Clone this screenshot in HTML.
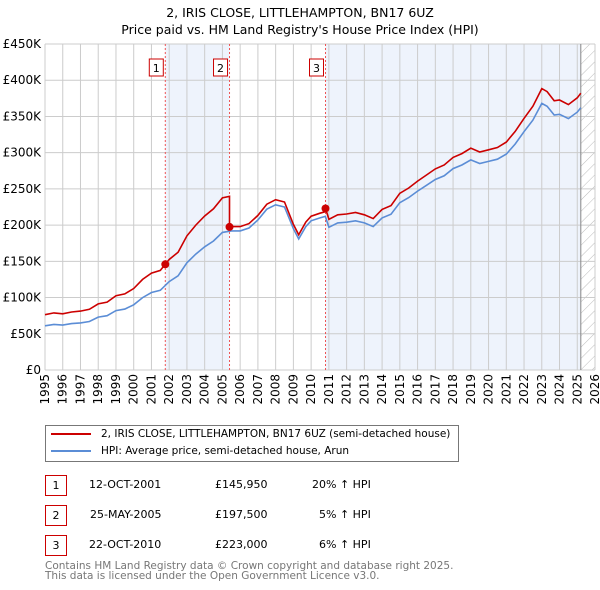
<!DOCTYPE html>
<html><head><meta charset="utf-8">
<style>
body{margin:0;background:#fff;font-family:"DejaVu Sans","Liberation Sans",sans-serif;}
#wrap{position:relative;width:600px;height:590px;overflow:hidden;}
.t{position:absolute;font-size:11px;color:#000;white-space:nowrap;}
.box{position:absolute;border:1px solid #c00;width:20px;height:19px;text-align:center;font-size:11px;line-height:19px;}
</style></head><body>
<div id="wrap">
<svg id="chart" width="600" height="420" style="position:absolute;left:0;top:0"></svg>
<div style="position:absolute;left:45px;top:425px;width:412px;height:35px;border:1px solid #777;">
  <div style="position:absolute;left:5px;top:2px;font-size:10.5px;white-space:nowrap;"><span style="display:inline-block;width:40px;height:2px;background:#c00;vertical-align:middle;margin-right:10px"></span>2, IRIS CLOSE, LITTLEHAMPTON, BN17 6UZ (semi-detached house)</div>
  <div style="position:absolute;left:5px;top:19px;font-size:10.5px;white-space:nowrap;"><span style="display:inline-block;width:40px;height:2px;background:#5b8dd6;vertical-align:middle;margin-right:10px"></span>HPI: Average price, semi-detached house, Arun</div>
</div>
<div class="box" style="left:45px;top:475px">1</div>
<div class="t" style="left:89px;top:478px">12-OCT-2001</div>
<div class="t" style="left:215px;top:478px">£145,950</div>
<div class="t" style="left:312px;top:478px">20% ↑ HPI</div>
<div class="box" style="left:45px;top:505px">2</div>
<div class="t" style="left:90px;top:508px">25-MAY-2005</div>
<div class="t" style="left:215px;top:508px">£197,500</div>
<div class="t" style="left:319px;top:508px">5% ↑ HPI</div>
<div class="box" style="left:45px;top:535px">3</div>
<div class="t" style="left:89px;top:538px">22-OCT-2010</div>
<div class="t" style="left:215px;top:538px">£223,000</div>
<div class="t" style="left:319px;top:538px">6% ↑ HPI</div>
<div class="t" style="left:45px;top:561px;color:#777;font-size:10.5px;line-height:10px">Contains HM Land Registry data © Crown copyright and database right 2025.<br>This data is licensed under the Open Government Licence v3.0.</div>
</div>
<script>
const hpiYears=[1995,1995.5,1996,1996.5,1997,1997.5,1998,1998.5,1999,1999.5,2000,2000.5,2001,2001.5,2002,2002.5,2003,2003.5,2004,2004.5,2005,2005.5,2006,2006.5,2007,2007.5,2008,2008.5,2009,2009.3,2009.7,2010,2010.5,2010.8,2011,2011.5,2012,2012.5,2013,2013.5,2014,2014.5,2015,2015.5,2016,2016.5,2017,2017.5,2018,2018.5,2019,2019.5,2020,2020.5,2021,2021.5,2022,2022.5,2023,2023.3,2023.7,2024,2024.5,2025,2025.2];
const hpiValues=[61,63,62,64,65,67,73,75,82,84,90,100,107,110,122,130,148,160,170,178,190,192,192,196,207,222,228,225,195,181,198,206,210,212,197,203,204,206,203,198,210,215,231,238,247,255,263,268,278,283,290,285,288,291,298,312,329,345,368,364,352,353,347,356,362];
const saleYears=[2001.78,2005.4,2010.81];
const salePrices=[145.95,197.5,223];
const yTicks=[0,50,100,150,200,250,300,350,400,450];
const yTickLabels=["£0","£50K","£100K","£150K","£200K","£250K","£300K","£350K","£400K","£450K"];
const xTicks=[1995,1996,1997,1998,1999,2000,2001,2002,2003,2004,2005,2006,2007,2008,2009,2010,2011,2012,2013,2014,2015,2016,2017,2018,2019,2020,2021,2022,2023,2024,2025,2026];

const L=45,R=595,T=44,B=370;
const xs=y=>L+(y-1995)/(2026-1995)*(R-L);
const ys=v=>B-v/450*(B-T);
const NS="http://www.w3.org/2000/svg";
const svg=document.getElementById('chart');
function mk(tag,attrs,parent){const e=document.createElementNS(NS,tag);for(const k in attrs)e.setAttribute(k,attrs[k]);(parent||svg).appendChild(e);return e;}
function hpiAt(y){for(let i=0;i<hpiYears.length-1;i++){if(y<=hpiYears[i+1]){const f=(y-hpiYears[i])/(hpiYears[i+1]-hpiYears[i]);return hpiValues[i]+f*(hpiValues[i+1]-hpiValues[i]);}}return hpiValues[hpiValues.length-1];}
const lastYear=hpiYears[hpiYears.length-1];

let t=mk('text',{x:300,y:17,'text-anchor':'middle','font-size':12.5,'font-family':'DejaVu Sans, sans-serif'});t.textContent="2, IRIS CLOSE, LITTLEHAMPTON, BN17 6UZ";

t=mk('text',{x:300,y:34,'text-anchor':'middle','font-size':12.5,'font-family':'DejaVu Sans, sans-serif'});t.textContent="Price paid vs. HM Land Registry's House Price Index (HPI)";


let r=mk('rect',{x:xs(saleYears[0]),y:T,width:xs(saleYears[1])-xs(saleYears[0]),height:B-T,fill:'#eef3fc'});

r=mk('rect',{x:xs(saleYears[2]),y:T,width:xs(lastYear)-xs(saleYears[2]),height:B-T,fill:'#eef3fc'});

const defs=mk('defs',{});
const pat=mk('pattern',{id:'hatch',width:8,height:8,patternUnits:'userSpaceOnUse',patternTransform:'rotate(45)'},defs);
mk('line',{x1:0,y1:0,x2:0,y2:8,stroke:'#bbb','stroke-width':1},pat);
r=mk('rect',{x:xs(lastYear),y:T,width:R-xs(lastYear),height:B-T,fill:'url(#hatch)'});


yTicks.forEach((v,i)=>{
  const g=mk('line',{x1:L,x2:R,y1:ys(v),y2:ys(v),stroke:'#ccc','stroke-width':1});
  
  const lb=mk('text',{x:L-4,y:ys(v)+4,'text-anchor':'end','font-size':12,'font-family':'DejaVu Sans, sans-serif'});lb.textContent=yTickLabels[i];
  
});
xTicks.forEach(y=>{
  const g=mk('line',{x1:xs(y),x2:xs(y),y1:T,y2:B,stroke:'#ccc','stroke-width':1});
  
  const lb=mk('text',{x:0,y:0,'text-anchor':'end','font-size':12,'font-family':'DejaVu Sans, sans-serif',transform:'translate('+(xs(y)+4)+',374) rotate(-90)'});lb.textContent=y;
  
});
let bl=mk('line',{x1:xs(lastYear),x2:xs(lastYear),y1:T,y2:B,stroke:'#888','stroke-width':1});


saleYears.forEach((y,i)=>{
  const l=mk('line',{x1:xs(y),x2:xs(y),y1:T,y2:B,stroke:'#e55','stroke-width':1,'stroke-dasharray':'2,2'});
  
  const bx=mk('rect',{x:xs(y)-16,y:59,width:14,height:17,fill:'#fff',stroke:'#c00'});
  
  const tx=mk('text',{x:xs(y)-9,y:72,'text-anchor':'middle','font-size':11,'font-family':'DejaVu Sans, sans-serif'});tx.textContent=i+1;
  
});

let d=hpiYears.map((y,i)=>(i?'L':'M')+xs(y).toFixed(1)+','+ys(hpiValues[i]).toFixed(1)).join(' ');
let p=mk('path',{d:d,fill:'none',stroke:'#5b8dd6','stroke-width':1.6});


function ratioAt(y){let k=0;for(let i=0;i<saleYears.length;i++){if(y>=saleYears[i])k=i;}return salePrices[k]/hpiAt(saleYears[k]);}
const pts=[];
hpiYears.forEach((y,i)=>{
  saleYears.forEach((s,j)=>{if(s>(i?hpiYears[i-1]:0)&&s<=y){if(j>0)pts.push([s,hpiAt(s)*salePrices[j-1]/hpiAt(saleYears[j-1])]);pts.push([s,salePrices[j]]);}});
  pts.push([y,hpiValues[i]*ratioAt(y)]);
});
d=pts.map((q,i)=>(i?'L':'M')+xs(q[0]).toFixed(1)+','+ys(q[1]).toFixed(1)).join(' ');
p=mk('path',{d:d,fill:'none',stroke:'#c00','stroke-width':1.6});

saleYears.forEach((y,i)=>{
  const c=mk('circle',{cx:xs(y),cy:ys(salePrices[i]),r:4,fill:'#c00'});
  
});
</script>
</body></html>
